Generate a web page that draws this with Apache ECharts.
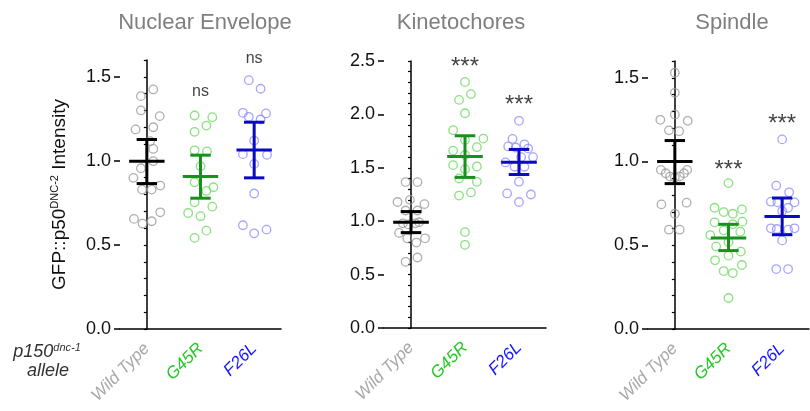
<!DOCTYPE html>
<html>
<head>
<meta charset="utf-8">
<script src="https://cdn.jsdelivr.net/npm/echarts@6/dist/echarts.min.js"></script>
<style>
html, body { margin: 0; padding: 0; background: #fff; }
#chart { width: 810px; height: 411px; }
</style>
</head>
<body>
<div id="chart"></div>
<script>
var groups = ['Wild Type', 'G45R', 'F26L']
var panelTitles = ['Nuclear Envelope', 'Kinetochores', 'Spindle']

// each point: [offset inside its category, intensity]
var nePtsWT = [[0.12, 1.425], [-0.11, 1.385], [-0.11, 1.30], [0.24, 1.266], [-0.21, 1.187], [0.12, 1.20],
  [0.06, 1.117], [0.12, 1.071], [-0.11, 0.956], [0.12, 0.998], [-0.25, 0.899], [-0.09, 0.829],
  [0.09, 0.829], [0.25, 0.853], [-0.24, 0.655], [0.25, 0.694], [-0.08, 0.627], [0.09, 0.641]]
var nePtsG45R = [[-0.11, 1.27], [0.22, 1.26], [0.11, 1.21], [-0.11, 1.173], [-0.11, 1.063], [0.12, 1.056],
  [0, 0.968], [-0.11, 0.873], [0.11, 0.821], [0.24, 0.843], [-0.11, 0.754], [0.22, 0.728],
  [-0.23, 0.69], [0, 0.671], [0.11, 0.585], [-0.11, 0.542]]
var nePtsF26L = [[-0.10, 1.48], [0.12, 1.429], [-0.21, 1.286], [0.22, 1.282], [-0.10, 1.262], [0.12, 1.246],
  [0, 1.121], [-0.21, 1.04], [0.24, 1.036], [0, 0.982], [0, 0.806], [-0.21, 0.617], [0, 0.569], [0.23, 0.591]]

var ktPtsWT = [[-0.10, 1.366], [0.12, 1.366], [-0.25, 1.18], [-0.02, 1.20], [0.25, 1.16], [-0.10, 1.10],
  [0.12, 1.10], [-0.15, 0.98], [-0.05, 0.97], [0.08, 0.98], [0.15, 0.99], [-0.22, 0.89],
  [-0.07, 0.84], [0.10, 0.80], [0.26, 0.84], [-0.10, 0.62], [0.12, 0.66]]
var ktPtsG45R = [[0, 2.304], [0.11, 2.19], [-0.11, 2.136], [0, 2.011], [-0.22, 1.852], [0.34, 1.774],
  [0, 1.761], [0.22, 1.693], [-0.22, 1.661], [0, 1.62], [-0.22, 1.525], [0.22, 1.512], [0, 1.487],
  [-0.11, 1.40], [0.22, 1.369], [0.11, 1.269], [-0.11, 1.24], [0, 0.898], [0, 0.779]]
var ktPtsF26L = [[0, 1.94], [-0.12, 1.77], [-0.20, 1.70], [-0.06, 1.69], [0.10, 1.72], [0.17, 1.68],
  [0.26, 1.60], [-0.25, 1.55], [0.04, 1.60], [-0.08, 1.51], [0.10, 1.51], [0, 1.37],
  [-0.22, 1.26], [0.22, 1.25], [0, 1.18]]

var spPtsWT = [[0, 1.53], [0, 1.41], [-0.27, 1.249], [0, 1.281], [0.24, 1.243], [-0.11, 1.186], [0.08, 1.181],
  [-0.26, 0.95], [-0.17, 0.93], [-0.09, 0.91], [0, 0.905], [0.09, 0.91], [0.17, 0.93], [0.23, 0.95],
  [-0.25, 0.744], [0.22, 0.754], [0, 0.688], [-0.11, 0.593], [0.09, 0.593]]
var spPtsG45R = [[0, 0.871], [-0.26, 0.724], [-0.09, 0.698], [0.08, 0.688], [0.25, 0.714], [-0.26, 0.637],
  [0.08, 0.625], [0.26, 0.641], [-0.09, 0.589], [-0.34, 0.561], [0.22, 0.581], [0, 0.519],
  [-0.23, 0.493], [0.23, 0.462], [0, 0.438], [-0.25, 0.41], [0.25, 0.382], [-0.09, 0.346],
  [0.08, 0.334], [0, 0.185]]
var spPtsF26L = [[0, 1.132], [-0.11, 0.856], [0.13, 0.816], [-0.21, 0.76], [-0.09, 0.756], [0.23, 0.756],
  [0.11, 0.724], [0, 0.704], [-0.21, 0.601], [-0.10, 0.597], [0.11, 0.593], [0.23, 0.601],
  [0, 0.529], [-0.11, 0.358], [0.11, 0.358]]

// mean with error bar ends, per group
var neMean = [0.998, 0.907, 1.065]
var neHigh = [1.127, 1.034, 1.23]
var neLow = [0.865, 0.778, 0.899]
var ktMean = [0.99, 1.605, 1.553]
var ktHigh = [1.09, 1.80, 1.672]
var ktLow = [0.893, 1.41, 1.437]
var spMean = [1.0, 0.543, 0.672]
var spHigh = [1.125, 0.625, 0.782]
var spLow = [0.868, 0.468, 0.563]

// significance marks and the height they sit at
var neSig = ['', 'ns', 'ns']
var neSigY = [null, 1.41, 1.61]
var ktSig = ['', '***', '***']
var ktSigY = [null, 2.44, 2.08]
var spSig = ['', '***', '***']
var spSigY = [null, 0.95, 1.22]

var yMax = [1.6, 2.5, 1.6]
var yMajor = [[0, 0.5, 1.0, 1.5], [0, 0.5, 1.0, 1.5, 2.0, 2.5], [0, 0.5, 1.0, 1.5]]

var pointColors = ['#9b9b9b', '#6bd95f', '#8f8fff']
var barColors = ['#000000', '#17901c', '#0a0ac4']
var labelColors = ['#a8a8a8', '#22c922', '#1616ff']

var FONT = '"Liberation Sans", Arial, sans-serif'

var panels = [
  { pts: [nePtsWT, nePtsG45R, nePtsF26L], mean: neMean, hi: neHigh, lo: neLow, sig: neSig, sigY: neSigY },
  { pts: [ktPtsWT, ktPtsG45R, ktPtsF26L], mean: ktMean, hi: ktHigh, lo: ktLow, sig: ktSig, sigY: ktSigY },
  { pts: [spPtsWT, spPtsG45R, spPtsF26L], mean: spMean, hi: spHigh, lo: spLow, sig: spSig, sigY: spSigY }
]

var grids = [
  { left: 120, top: 60, width: 161, height: 269 },
  { left: 384, top: 61, width: 162, height: 267 },
  { left: 648, top: 61, width: 161, height: 268 }
]

function halfStep(v) {
  return Math.abs(v * 2 - Math.round(v * 2)) < 1e-6
}

var xAxes = []
var yAxes = []
var series = []

panels.forEach(function(panel, p) {
  // visible category axis
  xAxes.push({
    type: 'category', gridIndex: p, data: groups,
    axisLine: { lineStyle: { color: '#000', width: 1.5 } },
    axisTick: { alignWithLabel: true, length: 6, lineStyle: { color: '#000', width: 1.5 } },
    axisLabel: {
      rotate: 45, margin: 17, fontSize: 17, fontStyle: 'italic', fontFamily: FONT,
      color: function(value, index) { return labelColors[index] }
    },
    splitLine: { show: false }
  })
  // hidden value axis for jittered points
  xAxes.push({ type: 'value', gridIndex: p, min: -0.5, max: 2.5, show: false })

  yAxes.push({
    type: 'value', gridIndex: p, position: 'left', min: 0, max: yMax[p], interval: 0.1,
    name: p === 0 ? '{a|GFP::p50}{s|DNC-2}{a| Intensity}' : '',
    nameLocation: 'middle', nameGap: 50,
    nameTextStyle: {
      rich: {
        a: { fontSize: 19, fontFamily: FONT, color: '#111' },
        s: { fontSize: 11, fontFamily: FONT, color: '#111', padding: [0, 0, 10, 0] }
      }
    },
    axisLine: { show: true, lineStyle: { color: '#000', width: 1.5 } },
    axisTick: { show: true, length: 3, lineStyle: { color: '#000', width: 1.2 } },
    axisLabel: {
      fontSize: 18, fontFamily: FONT, color: '#111', margin: 9,
      formatter: function(v) { return halfStep(v) ? v.toFixed(1) : '' }
    },
    splitLine: { show: false }
  })
  // overlay axis only for the longer major ticks
  yAxes.push({
    type: 'value', gridIndex: p, position: 'left', min: 0, max: yMax[p], interval: 0.1,
    axisLine: { show: false },
    axisTick: { show: true, length: 6, customValues: yMajor[p], lineStyle: { color: '#000', width: 1.5 } },
    axisLabel: { show: false },
    splitLine: { show: false }
  })

  panel.pts.forEach(function(pts, g) {
    series.push({
      type: 'scatter', xAxisIndex: p * 2 + 1, yAxisIndex: p * 2,
      symbol: 'circle', symbolSize: 8.5,
      itemStyle: { color: 'rgba(255,255,255,0)', borderColor: pointColors[g], borderWidth: 1.3 },
      data: pts.map(function(d) { return [g + d[0], d[1]] }),
      z: 2
    })
  })

  series.push({
    type: 'custom', xAxisIndex: p * 2 + 1, yAxisIndex: p * 2,
    data: panel.mean.map(function(m, i) { return [i, m, panel.lo[i], panel.hi[i]] }),
    renderItem: function(params, api) {
      var i = api.value(0)
      var mid = api.coord([i, api.value(1)])
      var lo = api.coord([i, api.value(2)])
      var hi = api.coord([i, api.value(3)])
      var band = api.size([1, 0])[0]
      var mw = band * 0.33
      var cw = band * 0.19
      var style = { stroke: barColors[i], lineWidth: 3 }
      return {
        type: 'group',
        children: [
          { type: 'line', shape: { x1: mid[0] - mw, y1: mid[1], x2: mid[0] + mw, y2: mid[1] }, style: style },
          { type: 'line', shape: { x1: hi[0], y1: hi[1], x2: lo[0], y2: lo[1] }, style: style },
          { type: 'line', shape: { x1: hi[0] - cw, y1: hi[1], x2: hi[0] + cw, y2: hi[1] }, style: style },
          { type: 'line', shape: { x1: lo[0] - cw, y1: lo[1], x2: lo[0] + cw, y2: lo[1] }, style: style }
        ]
      }
    },
    z: 5
  })

  var sigData = []
  panel.sig.forEach(function(s, i) {
    if (s) sigData.push([i, panel.sigY[i], s])
  })
  series.push({
    type: 'scatter', xAxisIndex: p * 2 + 1, yAxisIndex: p * 2,
    symbolSize: 1, clip: false, silent: true,
    itemStyle: { color: 'rgba(0,0,0,0)' },
    label: {
      show: true, position: 'inside', color: '#111', fontFamily: FONT,
      fontSize: p === 0 ? 16 : 24,
      formatter: function(prm) { return prm.data[2] }
    },
    data: sigData,
    z: 6
  })
})

var titleX = [205, 461, 732]
var graphics = panelTitles.map(function(t, i) {
  return {
    type: 'text', x: titleX[i], y: 23,
    style: { text: t, fill: '#7f7f7f', font: '22px ' + FONT, align: 'center', verticalAlign: 'middle' }
  }
})
graphics.push({
  type: 'text', x: 47, y: 352,
  style: {
    text: '{a|p150}{s|dnc-1}',
    align: 'center', verticalAlign: 'middle',
    rich: {
      a: { fontSize: 18, fontStyle: 'italic', fontFamily: FONT, fill: '#333' },
      s: { fontSize: 11, fontStyle: 'italic', fontFamily: FONT, fill: '#333', padding: [0, 0, 9, 0] }
    }
  }
})
graphics.push({
  type: 'text', x: 48, y: 371,
  style: { text: 'allele', fill: '#333', font: 'italic 18px ' + FONT, align: 'center', verticalAlign: 'middle' }
})

var chart = echarts.init(document.getElementById('chart'))
chart.setOption({
  animation: false,
  backgroundColor: '#fff',
  grid: grids,
  xAxis: xAxes,
  yAxis: yAxes,
  series: series,
  graphic: graphics
})
</script>
</body>
</html>
